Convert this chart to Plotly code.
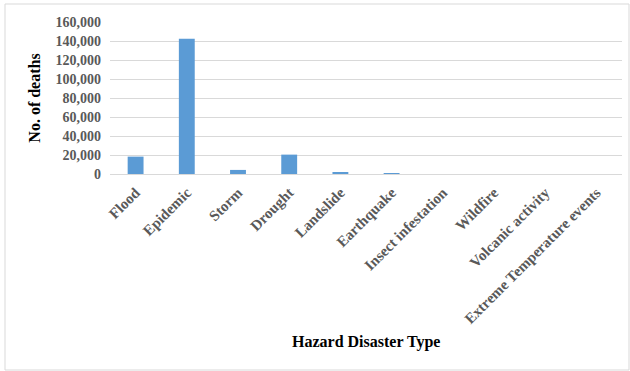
import plotly.graph_objects as go

categories = ["Flood", "Epidemic", "Storm", "Drought", "Landslide", "Earthquake",
              "Insect infestation", "Wildfire", "Volcanic activity",
              "Extreme Temperature events"]
deaths = [18300, 142500, 4300, 20400, 2100, 300, 0, 0, 0, 0]

y_ticks = [0, 20000, 40000, 60000, 80000, 100000, 120000, 140000, 160000]
y_tick_text = [f"{v:,}" for v in y_ticks]

W, H = 630, 371
ML, MR, MT, MB = 110, 8, 22, 197
pw, ph = W - ML - MR, H - MT - MB

def px_x(p):
    return (p - ML) / pw

def px_y(p):
    return (H - MB - p) / ph

fig = go.Figure(go.Bar(x=categories, y=deaths, marker_color="#5B9BD5",
                       marker_line_width=0))

font_family = "Liberation Serif"
fig.update_layout(
    width=W, height=H,
    margin=dict(l=ML, r=MR, t=MT, b=MB),
    plot_bgcolor="white", paper_bgcolor="white",
    bargap=0.69,
    showlegend=False,
    font=dict(family=font_family),
    xaxis=dict(tickangle=-45, showgrid=False, showline=False, ticks="",
               ticklabelstandoff=6,
               tickfont=dict(family=font_family, size=15, color="#595959",
                             weight="bold"),
               automargin=False),
    yaxis=dict(range=[0, 160000], tickvals=y_ticks, ticktext=y_tick_text,
               showgrid=True, gridcolor="#d9d9d9", gridwidth=1,
               zeroline=True, zerolinecolor="#d9d9d9", zerolinewidth=1,
               showline=False, ticks="", ticklabelstandoff=8,
               tickfont=dict(family=font_family, size=14, color="#595959",
                             weight="bold"),
               title=dict(text="<b>No. of deaths</b>", standoff=10,
                          font=dict(family=font_family, size=16, color="black")),
               automargin=False),
    annotations=[dict(text="<b>Hazard Disaster Type</b>", xref="paper", yref="paper",
                      x=0.5, y=px_y(342), showarrow=False, xanchor="center",
                      yanchor="middle",
                      font=dict(family=font_family, size=16, color="black"))],
    shapes=[dict(type="rect", xref="paper", yref="paper",
                 x0=px_x(5), x1=px_x(629), y0=px_y(370), y1=px_y(4),
                 line=dict(color="#d9d9d9", width=1), layer="below")],
)

fig.write_html("out.html")
